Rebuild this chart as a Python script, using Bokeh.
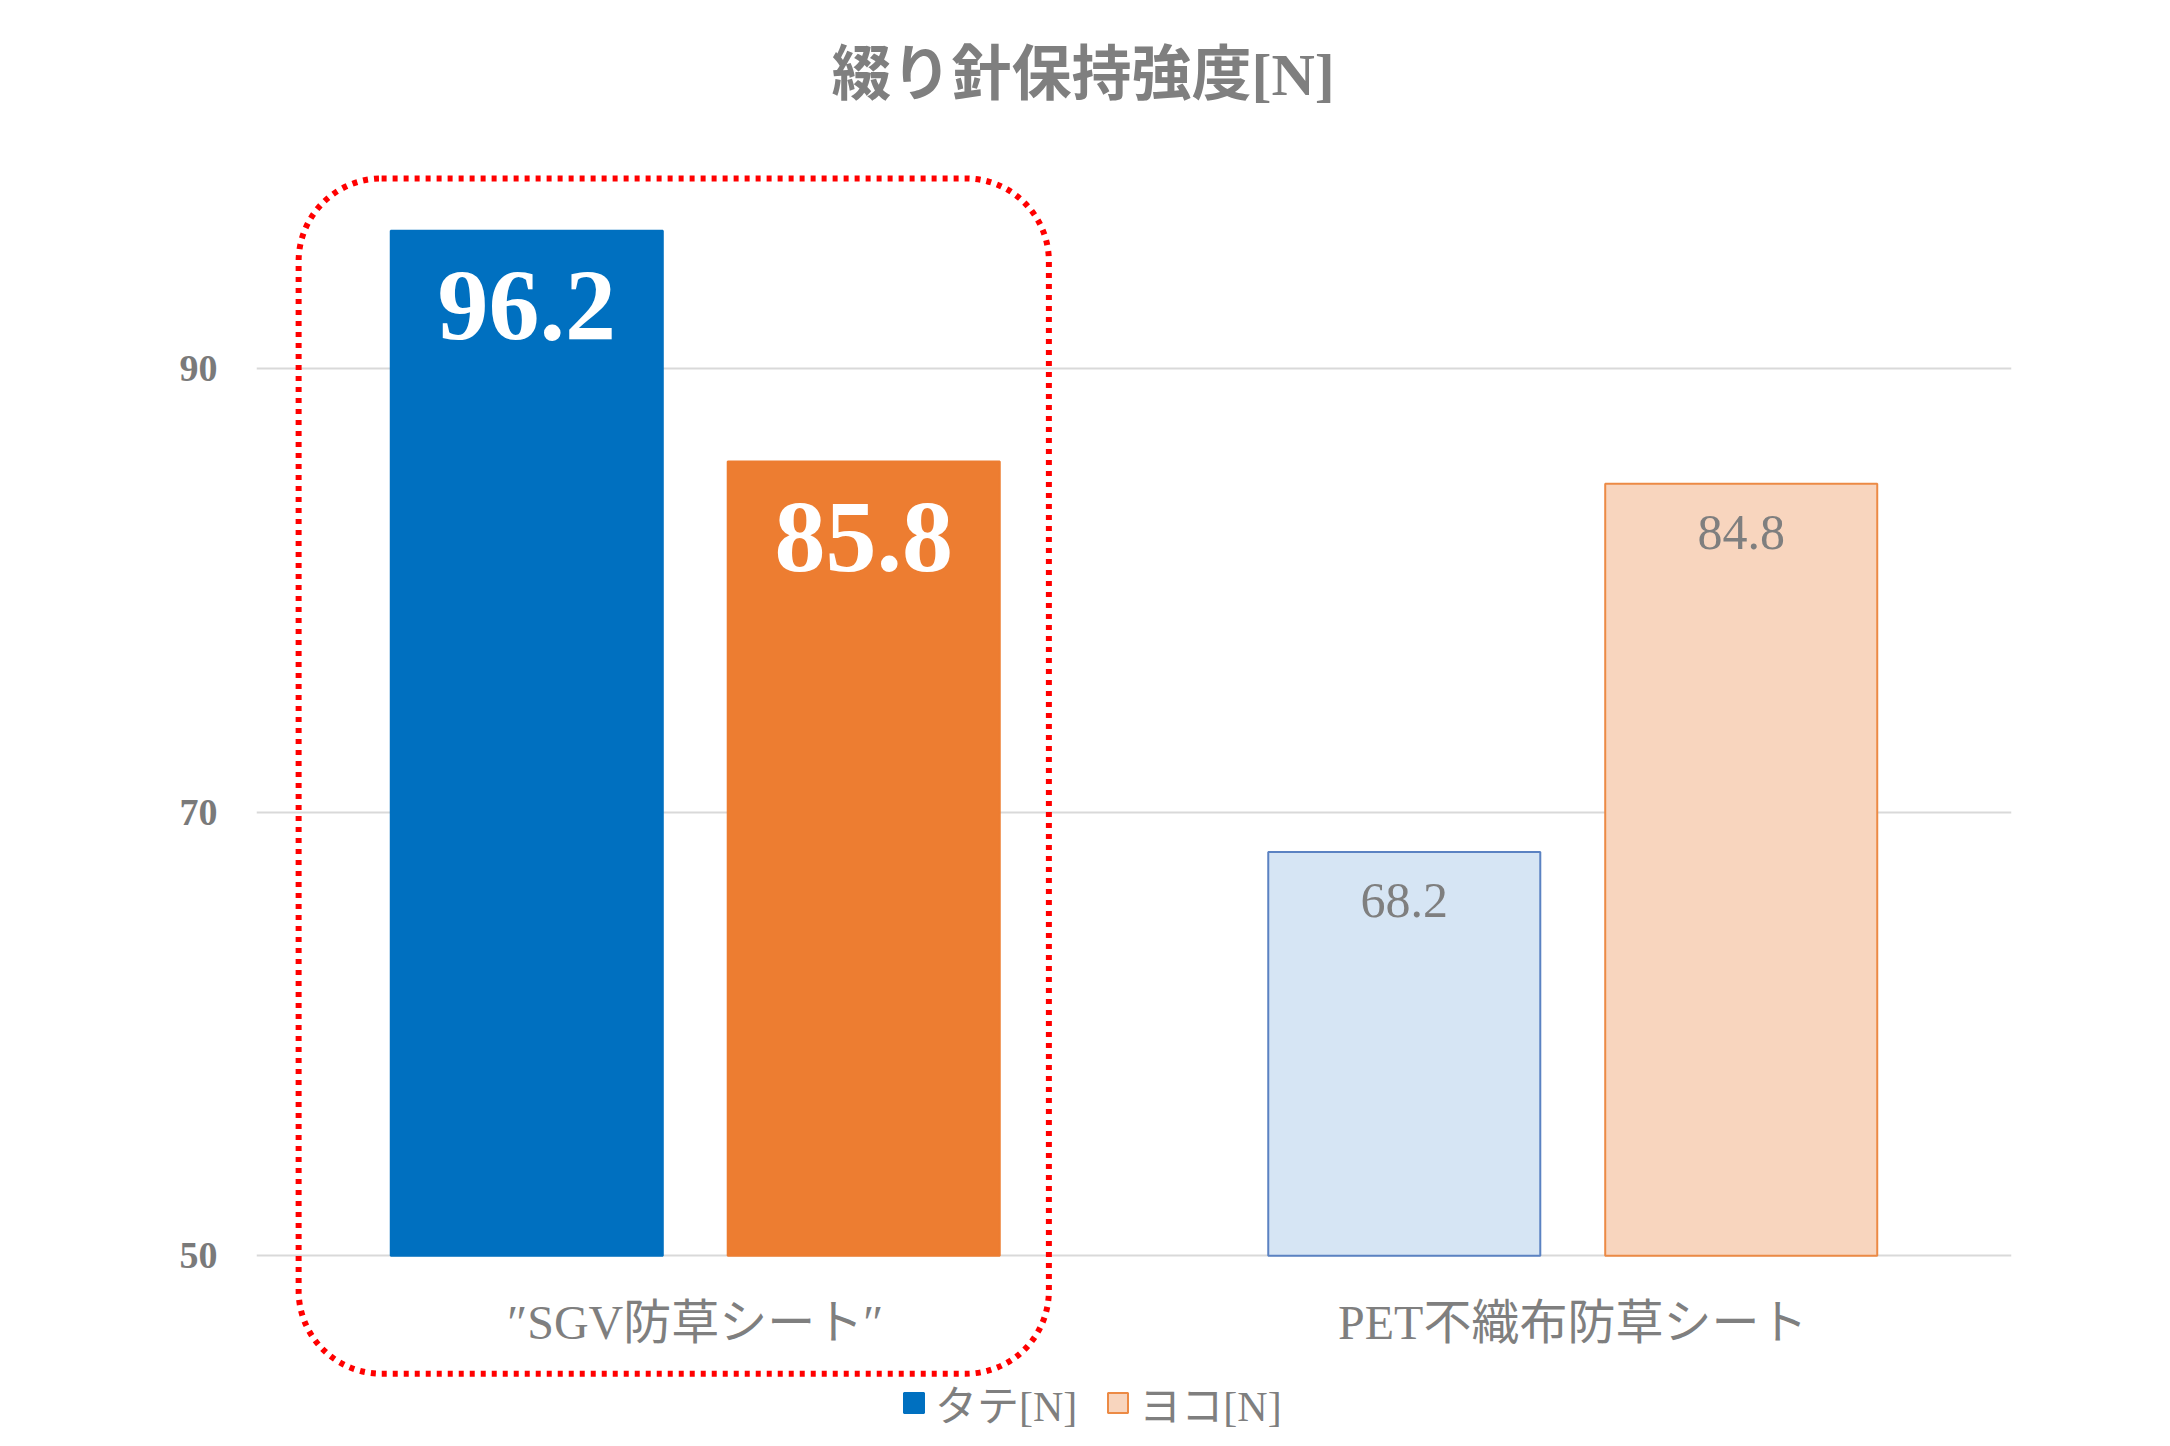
from bokeh.plotting import figure
from bokeh.models import FactorRange, Range1d, FixedTicker, BoxAnnotation, Legend, LegendItem, ColumnDataSource
from bokeh.transform import dodge
from bokeh.core.properties import value
from bokeh.embed import file_html
from bokeh.resources import INLINE

# ---- data ----
categories = ["″SGV防草シート″", "PET不織布防草シート"]
tate = [96.2, 68.2]
yoko = [85.8, 84.8]
series_names = ["タテ[N]", "ヨコ[N]"]
y_ticks = [50, 70, 90]
title_text = "綴り針保持強度[N]"

# ---- styles ----
SERIF = "Liberation Serif, Noto Sans CJK JP"
GRAY = "#7F7F7F"
tate_fill = ["#0070C0", "#D6E5F4"]
tate_line = ["#0070C0", "#5B82C2"]
yoko_fill = ["#ED7D31", "#F8D5BE"]
yoko_line = ["#ED7D31", "#EC8A45"]
lbl_color = ["#FFFFFF", "#7F7F7F"]
lbl_size = ["102px", "50px"]
lbl_style = ["bold", "normal"]
lbl_off = [76, 49]

p = figure(width=2154, height=1430,
           x_range=FactorRange(*categories, range_padding=0),
           y_range=Range1d(42.12, 100),
           output_backend="svg", toolbar_location=None,
           min_border_left=256, min_border_right=143,
           min_border_top=145, min_border_bottom=0)
p.outline_line_color = None
p.background_fill_color = "white"
p.border_fill_color = "white"

def src(vals, fill, line):
    return ColumnDataSource(dict(
        cat=categories, val=vals, fill=fill, line=line,
        lbl=[f"{v:.1f}" for v in vals], tcol=lbl_color, tsize=lbl_size,
        tstyle=lbl_style, toff=lbl_off))

s_tate = src(tate, tate_fill, tate_line)
s_yoko = src(yoko, yoko_fill, yoko_line)

r_tate = p.vbar(x=dodge("cat", -0.192, range=p.x_range), top="val", bottom=50, width=0.31,
                source=s_tate, fill_color="fill", line_color="line", line_width=2)
r_yoko = p.vbar(x=dodge("cat", 0.192, range=p.x_range), top="val", bottom=50, width=0.31,
                source=s_yoko, fill_color="fill", line_color="line", line_width=2)

for s, off in ((s_tate, -0.192), (s_yoko, 0.192)):
    p.text(x=dodge("cat", off, range=p.x_range), y="val", text="lbl", source=s,
           text_color="tcol", text_font_size="tsize", text_font_style="tstyle",
           y_offset="toff", text_align="center", text_baseline="middle",
           text_font=value(SERIF))

# dotted rounded highlight box
box = BoxAnnotation(left=0.048, right=0.903, top=98.56, bottom=44.68,
                    border_radius=83, fill_alpha=0, line_color="#FF0000", line_alpha=1.0,
                    line_width=6, line_dash="5 6", level="overlay")
p.add_layout(box)

# axes
p.yaxis.ticker = FixedTicker(ticks=y_ticks)
p.yaxis.axis_line_color = None
p.yaxis.major_tick_line_color = None
p.yaxis.minor_tick_line_color = None
p.yaxis.major_label_text_font = SERIF
p.yaxis.major_label_text_font_size = "38px"
p.yaxis.major_label_text_font_style = "bold"
p.yaxis.major_label_text_color = "#7A7A7A"
p.yaxis.major_label_standoff = 33

p.xaxis.axis_line_color = None
p.xaxis.major_tick_line_color = None
p.xaxis.minor_tick_line_color = None
p.xaxis.major_label_text_font = SERIF
p.xaxis.major_label_text_font_size = "48px"
p.xaxis.major_label_text_color = GRAY
p.xaxis.major_label_standoff = -141

p.xgrid.grid_line_color = None
p.ygrid.grid_line_color = "#D9D9D9"
p.ygrid.grid_line_width = 2

# title
p.title.text = title_text
p.title.align = "left"
p.title.offset = 575
p.title.standoff = 78
p.title.text_font = SERIF
p.title.text_font_size = "60px"
p.title.text_font_style = "bold"
p.title.text_color = GRAY

# legend
legend = Legend(items=[LegendItem(label=series_names[0], renderers=[r_tate], index=0),
                       LegendItem(label=series_names[1], renderers=[r_yoko], index=1)],
                orientation="horizontal", location=(645, -3),
                glyph_width=25, glyph_height=25, label_standoff=9, spacing=28,
                padding=0, margin=0, border_line_color=None, background_fill_alpha=0,
                label_text_font=SERIF, label_text_font_size="42px", label_text_color=GRAY)
p.add_layout(legend)

open("out.html", "w").write(file_html(p, INLINE))
